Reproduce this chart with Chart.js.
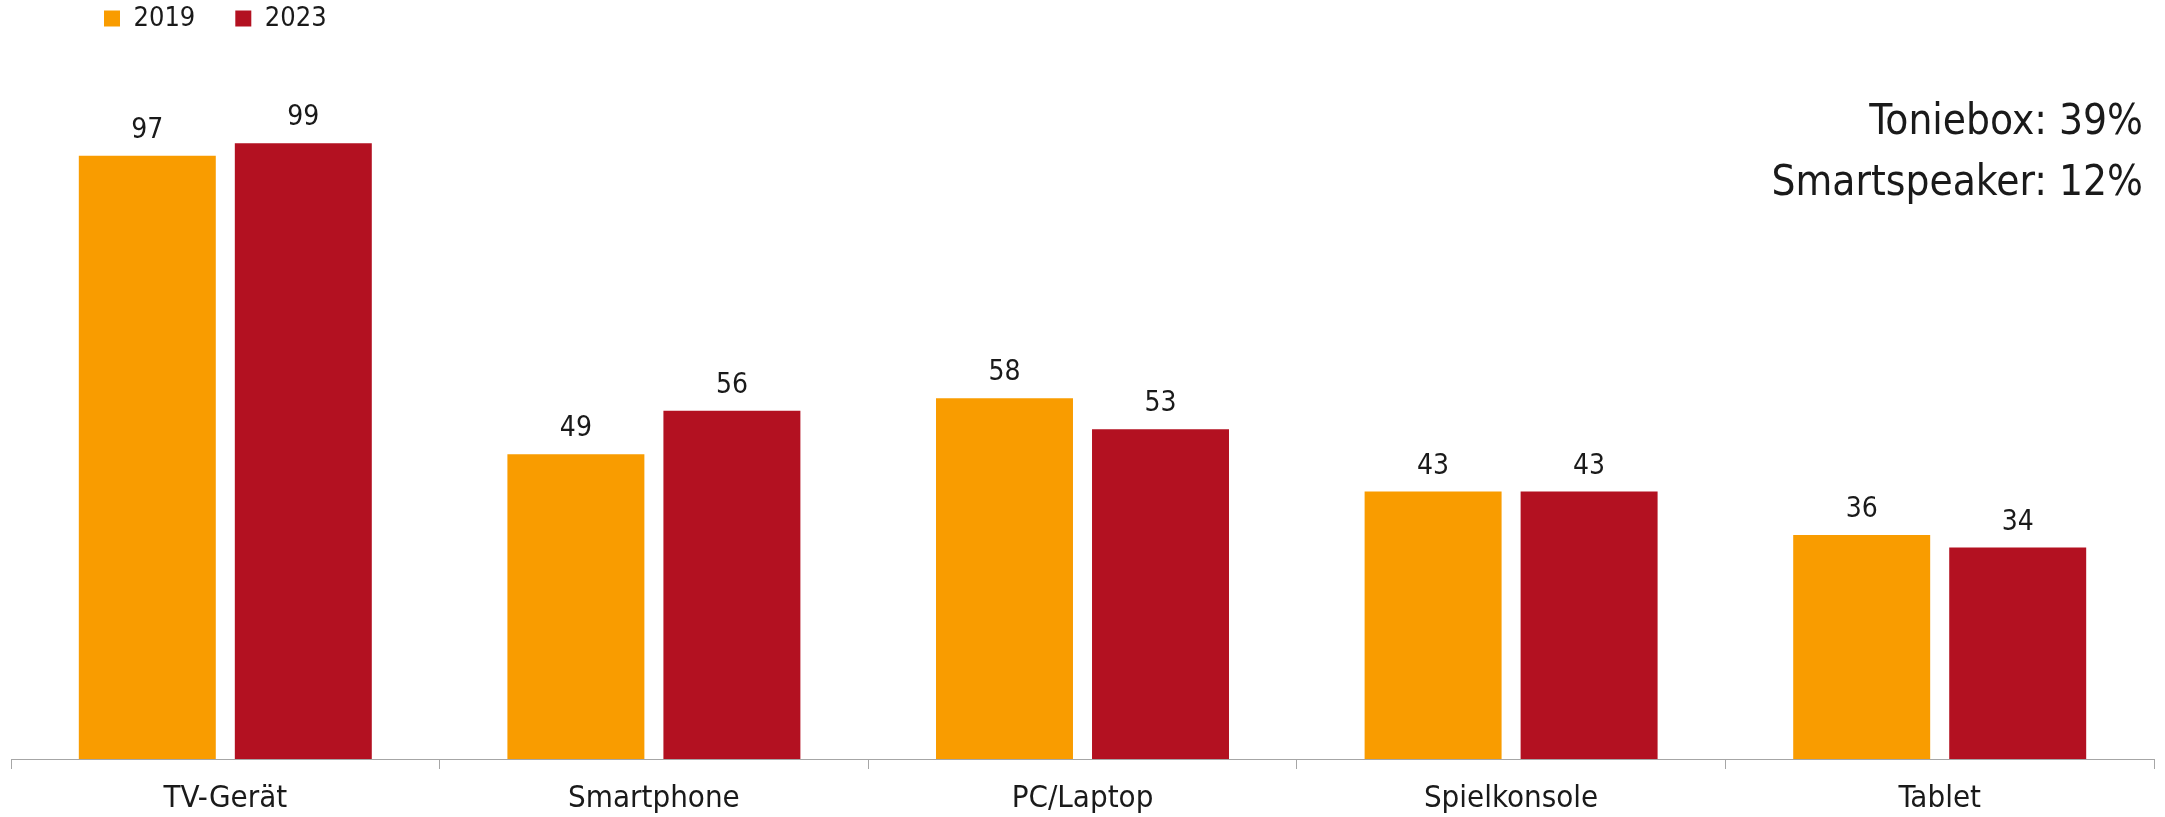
<!DOCTYPE html>
<html>
<head>
<meta charset="utf-8">
<script src="https://cdn.jsdelivr.net/npm/chart.js@4/dist/chart.umd.min.js"></script>
<style>
  html, body { margin: 0; padding: 0; background: #ffffff; }
  #wrap { width: 2165px; height: 817px; position: relative; }
</style>
</head>
<body>
<div id="wrap"><canvas id="c" width="2165" height="817"></canvas></div>
<script>
const categories = ['TV-Gerät', 'Smartphone', 'PC/Laptop', 'Spielkonsole', 'Tablet'];
const seriesNames = ['2019', '2023'];
const values2019 = [97, 49, 58, 43, 36];
const values2023 = [99, 56, 53, 43, 34];
const noteLines = ['Toniebox: 39%', 'Smartspeaker: 12%'];

const FONT = "'DejaVu Sans Condensed', 'Liberation Sans', sans-serif";
const TEXT = '#1a1a1a';
const ORANGE = '#F99C00';
const RED = '#B31121';

const legendPlace = {
  id: 'legendPlace',
  afterLayout(chart) {
    const l = chart.legend;
    if (!l) return;
    const pad = l.options.labels.padding;
    l.left = 104 - pad;
    l.top = 5 - pad;
  }
};

const valueLabels = {
  id: 'valueLabels',
  afterDatasetsDraw(chart) {
    const ctx = chart.ctx;
    ctx.save();
    ctx.font = '28px ' + FONT;
    ctx.fillStyle = TEXT;
    ctx.textAlign = 'center';
    ctx.textBaseline = 'alphabetic';
    chart.data.datasets.forEach((ds, i) => {
      const meta = chart.getDatasetMeta(i);
      meta.data.forEach((bar, j) => {
        ctx.fillText(String(ds.data[j]), bar.x, bar.y - 18);
      });
    });
    ctx.restore();
  }
};

const notes = {
  id: 'notes',
  afterDraw(chart) {
    const ctx = chart.ctx;
    ctx.save();
    ctx.font = '42px ' + FONT;
    ctx.fillStyle = TEXT;
    ctx.textAlign = 'right';
    ctx.textBaseline = 'alphabetic';
    ctx.fillText(noteLines[0], 2143, 134);
    ctx.fillText(noteLines[1], 2143, 195);
    ctx.restore();
  }
};

new Chart(document.getElementById('c'), {
  type: 'bar',
  data: {
    labels: categories,
    datasets: [
      { label: seriesNames[0], data: values2019, backgroundColor: ORANGE, borderWidth: 0 },
      { label: seriesNames[1], data: values2023, backgroundColor: RED, borderWidth: 0 }
    ]
  },
  options: {
    responsive: false,
    animation: false,
    devicePixelRatio: 1,
    categoryPercentage: 0.728,
    barPercentage: 0.878,
    layout: { padding: { left: 11, right: 11, top: 60, bottom: 0 } },
    plugins: {
      legend: {
        display: true,
        position: 'top',
        align: 'start',
        labels: {
          boxWidth: 16,
          boxHeight: 16,
          padding: 40,
          color: TEXT,
          font: { family: FONT, size: 27 }
        }
      },
      tooltip: { enabled: false }
    },
    scales: {
      x: {
        offset: true,
        afterFit(scale) { scale.height = 58; },
        grid: {
          display: true,
          offset: true,
          drawOnChartArea: false,
          drawTicks: true,
          tickLength: 10,
          color: '#a6a6a6',
          lineWidth: 1
        },
        border: { display: true, color: '#a6a6a6', width: 1 },
        ticks: {
          color: TEXT,
          padding: 11,
          maxRotation: 0,
          font: { family: FONT, size: 31 }
        }
      },
      y: {
        display: false,
        min: 0,
        max: 100,
        beginAtZero: true
      }
    }
  },
  plugins: [legendPlace, valueLabels, notes]
});
</script>
</body>
</html>
